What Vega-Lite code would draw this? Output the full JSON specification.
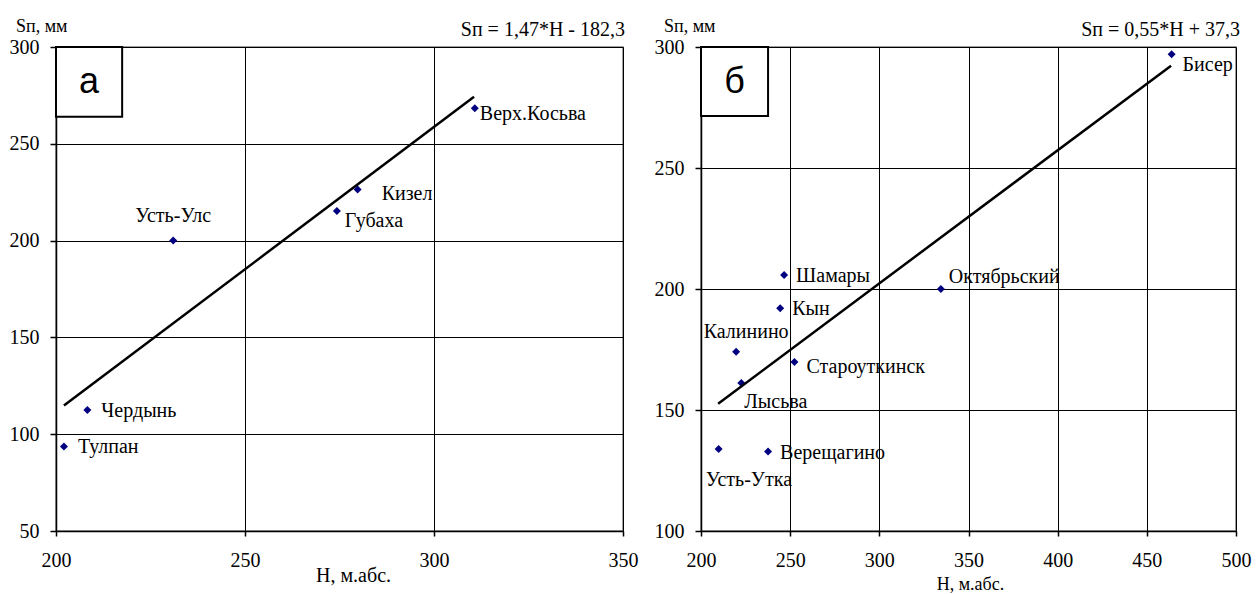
{
  "$schema": "https://vega.github.io/schema/vega-lite/v6.json",
  "background": "white",
  "padding": {"left": 8, "top": 17, "right": 0, "bottom": 0},
  "spacing": 14,
  "datasets": {
    "a": [
      {"name": "Тулпан", "H": 202.1, "S": 93.7},
      {"name": "Чердынь", "H": 208.3, "S": 112.5},
      {"name": "Усть-Улс", "H": 231.0, "S": 200.0},
      {"name": "Губаха", "H": 274.3, "S": 215.3},
      {"name": "Кизел", "H": 279.8, "S": 226.4},
      {"name": "Верх.Косьва", "H": 310.8, "S": 268.3}
    ],
    "aLine": [
      {"H": 202.1, "S": 114.8},
      {"H": 310.6, "S": 274.3}
    ],
    "b": [
      {"name": "Усть-Утка", "H": 209.9, "S": 133.9},
      {"name": "Калинино", "H": 219.7, "S": 174.1},
      {"name": "Лысьва", "H": 222.6, "S": 161.2},
      {"name": "Верещагино", "H": 237.6, "S": 132.8},
      {"name": "Кын", "H": 244.4, "S": 192.0},
      {"name": "Шамары", "H": 246.6, "S": 205.8},
      {"name": "Староуткинск", "H": 252.4, "S": 169.8},
      {"name": "Октябрьский", "H": 334.5, "S": 200.0},
      {"name": "Бисер", "H": 463.9, "S": 297.0}
    ],
    "bLine": [
      {"H": 209.6, "S": 152.6},
      {"H": 463.6, "S": 292.3}
    ]
  },
  "hconcat": [
    {
      "width": 567,
      "height": 484,
      "layer": [
        {
          "data": {"name": "a"},
          "mark": {"type": "point", "shape": "diamond", "filled": true, "color": "#000080", "size": 64, "opacity": 1},
          "encoding": {
            "x": {"field": "H", "type": "quantitative", "scale": {"domain": [200, 350], "nice": false, "zero": false},
                  "axis": {"values": [200, 250, 300, 350], "title": "Н, м.абс.", "titleX": 297, "titleY": 44, "titleBaseline": "middle", "titleAnchor": null}},
            "y": {"field": "S", "type": "quantitative", "scale": {"domain": [50, 300], "nice": false, "zero": false},
                  "axis": {"values": [50, 100, 150, 200, 250, 300], "title": null}}
          }
        },
        {
          "data": {"name": "aLine"},
          "mark": {"type": "line", "color": "black", "strokeWidth": 2.5},
          "encoding": {"x": {"field": "H", "type": "quantitative"}, "y": {"field": "S", "type": "quantitative"}}
        },
        {
          "data": {"name": "a"},
          "transform": [{"filter": {"field": "name", "oneOf": ["Тулпан", "Чердынь"]}}],
          "mark": {"type": "text", "align": "left", "baseline": "middle", "dx": 14, "dy": 1},
          "encoding": {"x": {"field": "H", "type": "quantitative"}, "y": {"field": "S", "type": "quantitative"}, "text": {"field": "name"}}
        },
        {
          "data": {"name": "a"},
          "transform": [{"filter": {"field": "name", "oneOf": ["Верх.Косьва"]}}],
          "mark": {"type": "text", "align": "left", "baseline": "middle", "dx": 5, "dy": 6},
          "encoding": {"x": {"field": "H", "type": "quantitative"}, "y": {"field": "S", "type": "quantitative"}, "text": {"field": "name"}}
        },
        {
          "data": {"name": "a"},
          "transform": [{"filter": {"field": "name", "oneOf": ["Кизел"]}}],
          "mark": {"type": "text", "align": "left", "baseline": "middle", "dx": 24, "dy": 5},
          "encoding": {"x": {"field": "H", "type": "quantitative"}, "y": {"field": "S", "type": "quantitative"}, "text": {"field": "name"}}
        },
        {
          "data": {"name": "a"},
          "transform": [{"filter": {"field": "name", "oneOf": ["Губаха"]}}],
          "mark": {"type": "text", "align": "left", "baseline": "middle", "dx": 8, "dy": 10},
          "encoding": {"x": {"field": "H", "type": "quantitative"}, "y": {"field": "S", "type": "quantitative"}, "text": {"field": "name"}}
        },
        {
          "data": {"name": "a"},
          "transform": [{"filter": {"field": "name", "oneOf": ["Усть-Улс"]}}],
          "mark": {"type": "text", "align": "center", "baseline": "middle", "dx": 0, "dy": -25},
          "encoding": {"x": {"field": "H", "type": "quantitative"}, "y": {"field": "S", "type": "quantitative"}, "text": {"field": "name"}}
        },
        {
          "data": {"values": [{}]},
          "mark": {"type": "rect", "fill": "white", "stroke": "black", "strokeWidth": 2},
          "encoding": {"x": {"datum": 200}, "x2": {"datum": 217.5}, "y": {"datum": 264}, "y2": {"datum": 300}}
        },
        {
          "data": {"values": [{}]},
          "mark": {"type": "text", "font": "Liberation Sans", "fontSize": 36, "align": "center", "baseline": "middle"},
          "encoding": {"x": {"datum": 208.75}, "y": {"datum": 282}, "text": {"value": "а"}}
        },
        {
          "data": {"values": [{}]},
          "mark": {"type": "text", "align": "right", "baseline": "middle", "dx": 2, "dy": -17},
          "encoding": {"x": {"datum": 350}, "y": {"datum": 300}, "text": {"value": "Sп = 1,47*H - 182,3"}}
        },
        {
          "data": {"values": [{}]},
          "mark": {"type": "text", "align": "left", "baseline": "middle", "dx": -40, "dy": -20, "fontSize": 18},
          "encoding": {"x": {"datum": 200}, "y": {"datum": 300}, "text": {"value": "Sп, мм"}}
        }
      ]
    },
    {
      "width": 535,
      "height": 484,
      "layer": [
        {
          "data": {"name": "b"},
          "mark": {"type": "point", "shape": "diamond", "filled": true, "color": "#000080", "size": 64, "opacity": 1},
          "encoding": {
            "x": {"field": "H", "type": "quantitative", "scale": {"domain": [200, 500], "nice": false, "zero": false},
                  "axis": {"values": [200, 250, 300, 350, 400, 450, 500], "title": "Н, м.абс.", "titleX": 269, "titleY": 53, "titleFontSize": 18, "titleBaseline": "middle", "titleAnchor": null}},
            "y": {"field": "S", "type": "quantitative", "scale": {"domain": [100, 300], "nice": false, "zero": false},
                  "axis": {"values": [100, 150, 200, 250, 300], "title": null}}
          }
        },
        {
          "data": {"name": "bLine"},
          "mark": {"type": "line", "color": "black", "strokeWidth": 2.5},
          "encoding": {"x": {"field": "H", "type": "quantitative"}, "y": {"field": "S", "type": "quantitative"}}
        },
        {
          "data": {"name": "b"},
          "transform": [{"filter": {"field": "name", "oneOf": ["Шамары", "Кын", "Верещагино"]}}],
          "mark": {"type": "text", "align": "left", "baseline": "middle", "dx": 12, "dy": 1},
          "encoding": {"x": {"field": "H", "type": "quantitative"}, "y": {"field": "S", "type": "quantitative"}, "text": {"field": "name"}}
        },
        {
          "data": {"name": "b"},
          "transform": [{"filter": {"field": "name", "oneOf": ["Староуткинск"]}}],
          "mark": {"type": "text", "align": "left", "baseline": "middle", "dx": 12, "dy": 5},
          "encoding": {"x": {"field": "H", "type": "quantitative"}, "y": {"field": "S", "type": "quantitative"}, "text": {"field": "name"}}
        },
        {
          "data": {"name": "b"},
          "transform": [{"filter": {"field": "name", "oneOf": ["Калинино"]}}],
          "mark": {"type": "text", "align": "center", "baseline": "middle", "dx": 10, "dy": -20},
          "encoding": {"x": {"field": "H", "type": "quantitative"}, "y": {"field": "S", "type": "quantitative"}, "text": {"field": "name"}}
        },
        {
          "data": {"name": "b"},
          "transform": [{"filter": {"field": "name", "oneOf": ["Лысьва"]}}],
          "mark": {"type": "text", "align": "left", "baseline": "middle", "dx": 3, "dy": 19},
          "encoding": {"x": {"field": "H", "type": "quantitative"}, "y": {"field": "S", "type": "quantitative"}, "text": {"field": "name"}}
        },
        {
          "data": {"name": "b"},
          "transform": [{"filter": {"field": "name", "oneOf": ["Усть-Утка"]}}],
          "mark": {"type": "text", "align": "left", "baseline": "middle", "dx": -13, "dy": 31},
          "encoding": {"x": {"field": "H", "type": "quantitative"}, "y": {"field": "S", "type": "quantitative"}, "text": {"field": "name"}}
        },
        {
          "data": {"name": "b"},
          "transform": [{"filter": {"field": "name", "oneOf": ["Октябрьский"]}}],
          "mark": {"type": "text", "align": "left", "baseline": "middle", "dx": 8, "dy": -12},
          "encoding": {"x": {"field": "H", "type": "quantitative"}, "y": {"field": "S", "type": "quantitative"}, "text": {"field": "name"}}
        },
        {
          "data": {"name": "b"},
          "transform": [{"filter": {"field": "name", "oneOf": ["Бисер"]}}],
          "mark": {"type": "text", "align": "left", "baseline": "middle", "dx": 11, "dy": 11},
          "encoding": {"x": {"field": "H", "type": "quantitative"}, "y": {"field": "S", "type": "quantitative"}, "text": {"field": "name"}}
        },
        {
          "data": {"values": [{}]},
          "mark": {"type": "rect", "fill": "white", "stroke": "black", "strokeWidth": 2},
          "encoding": {"x": {"datum": 200}, "x2": {"datum": 237.6}, "y": {"datum": 271.5}, "y2": {"datum": 300}}
        },
        {
          "data": {"values": [{}]},
          "mark": {"type": "text", "font": "Liberation Sans", "fontSize": 36, "align": "center", "baseline": "middle"},
          "encoding": {"x": {"datum": 218.8}, "y": {"datum": 285.7}, "text": {"value": "б"}}
        },
        {
          "data": {"values": [{}]},
          "mark": {"type": "text", "align": "right", "baseline": "middle", "dx": 4, "dy": -17},
          "encoding": {"x": {"datum": 500}, "y": {"datum": 300}, "text": {"value": "Sп = 0,55*H + 37,3"}}
        },
        {
          "data": {"values": [{}]},
          "mark": {"type": "text", "align": "left", "baseline": "middle", "dx": -37, "dy": -20, "fontSize": 18},
          "encoding": {"x": {"datum": 200}, "y": {"datum": 300}, "text": {"value": "Sп, мм"}}
        }
      ]
    }
  ],
  "config": {
    "font": "Liberation Serif",
    "view": {"stroke": "#808080", "strokeWidth": 1.5},
    "text": {"font": "Liberation Serif", "fontSize": 20, "color": "black"},
    "axis": {
      "grid": true,
      "gridColor": "black",
      "gridWidth": 1,
      "gridOpacity": 1,
      "domainColor": "black",
      "domainWidth": 1.5,
      "tickColor": "black",
      "tickWidth": 1.5,
      "labelFont": "Liberation Serif",
      "labelFontSize": 20,
      "labelColor": "black",
      "titleFont": "Liberation Serif",
      "titleFontSize": 20,
      "titleFontWeight": "normal",
      "titleColor": "black"
    },
    "axisX": {"tickSize": 5, "labelPadding": 14, "labelFlush": false},
    "axisY": {"tickSize": 6, "labelPadding": 11, "labelFlush": false}
  }
}
